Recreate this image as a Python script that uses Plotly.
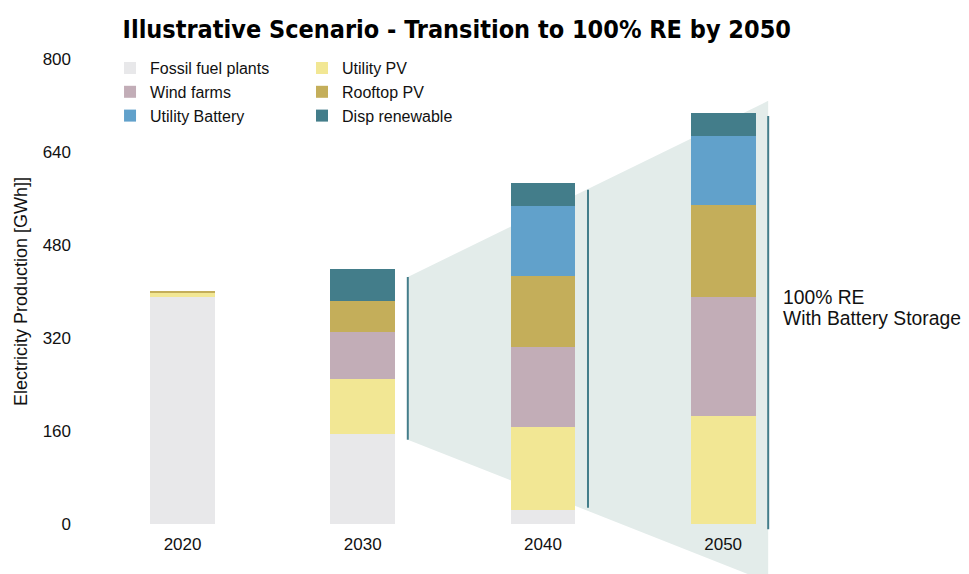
import plotly.graph_objects as go

# ---------------- data ----------------
years = [2020, 2030, 2040, 2050]
series_names = ["Fossil fuel plants", "Utility PV", "Wind farms", "Rooftop PV",
                "Utility Battery", "Disp renewable"]
fossil = [390, 154, 24, 0]
utility_pv = [8, 95, 143, 185]
wind = [0, 82, 137, 205]
rooftop = [2, 53, 123, 158]
battery = [0, 0, 120, 119]
disp = [0, 54, 40, 40]
series_values = [fossil, utility_pv, wind, rooftop, battery, disp]
colors = ["#e8e8ea", "#f2e794", "#c2adb7", "#c4ae5a", "#61a1cb", "#437d8a"]
legend_groups = ["legend", "legend2", "legend", "legend2", "legend", "legend2"]

# vertical "100% RE" bracket lines (2030, 2040, 2050)
bracket_years = [2030, 2040, 2050]
bracket_low = [145, 28, -9]
bracket_high = [425, 575, 702]
fan_top = 728
fan_bottom = -100

y_ticks = [0, 160, 320, 480, 640, 800]

# ---------------- layout helpers ----------------
# page has an 8px body margin, figure is sized to fit the window
W, H = 961, 566
ml, mr, mt, mb = 72, 179, 51, 50
x_range = [2014.31, 2053.71]
y_range = [0, 800]
line_offset = 2.5


def xd(v):
    return (v - x_range[0]) / (x_range[1] - x_range[0])


def yd(v):
    return (v - y_range[0]) / (y_range[1] - y_range[0])


fig = go.Figure()
for name, vals, col, lg in zip(series_names, series_values, colors, legend_groups):
    fig.add_trace(go.Bar(
        x=years, y=vals, name=name, width=3.6, legend=lg,
        marker=dict(color=col, line=dict(width=0)),
    ))

shapes = []
x_left = xd(bracket_years[0] + line_offset)
x_right = xd(bracket_years[-1] + line_offset)
path = (f"M {x_left},{yd(bracket_high[0])} L {x_right},{yd(fan_top)} "
        f"L {x_right},{yd(fan_bottom)} L {x_left},{yd(bracket_low[0])} Z")
shapes.append(dict(type="path", path=path, xref="x domain", yref="y domain",
                   fillcolor="#e3ecea", line=dict(width=0), layer="below"))
for yr, lo, hi in zip(bracket_years, bracket_low, bracket_high):
    xx = xd(yr + line_offset)
    shapes.append(dict(type="line", xref="x domain", yref="y domain",
                       x0=xx, x1=xx, y0=yd(lo), y1=yd(hi),
                       line=dict(color="#437d8a", width=2), layer="above"))

ann_x = xd(2050 + line_offset) + 0.018
legend_common = dict(orientation="v", xanchor="left", y=1.017, yanchor="top",
                     traceorder="normal", font=dict(size=16, color="#111"),
                     bgcolor="rgba(0,0,0,0)", itemclick=False)

fig.update_layout(
    width=W, height=H,
    margin=dict(l=ml, r=mr, t=mt, b=mb, autoexpand=False),
    paper_bgcolor="white", plot_bgcolor="white",
    barmode="stack",
    font=dict(family="Liberation Sans, Arial, sans-serif", size=17, color="#111"),
    title=dict(text="<b>Illustrative Scenario - Transition to 100% RE by 2050</b>",
               x=0.467, xanchor="center", y=0.962, yanchor="middle",
               font=dict(family="Liberation Sans Narrow, DejaVu Sans Condensed, Liberation Sans, sans-serif",
                         size=25, color="#000")),
    xaxis=dict(range=x_range, tickvals=years, ticktext=[str(y) for y in years],
               showgrid=False, zeroline=False, showline=False, ticks="",
               tickfont=dict(size=17), ticklabelstandoff=8),
    yaxis=dict(range=y_range, tickvals=y_ticks, showgrid=False, zeroline=False,
               showline=False, ticks="", tickfont=dict(size=17), ticklabelstandoff=8,
               title=dict(text="Electricity Production [GWh]]", font=dict(size=18),
                          standoff=10)),
    legend=dict(x=0.0423, **legend_common),
    legend2=dict(x=0.3127, **legend_common),
    shapes=shapes,
    annotations=[
        dict(text="100% RE", xref="x domain", yref="y", x=ann_x, y=390,
             xanchor="left", yanchor="middle", showarrow=False,
             font=dict(size=19.3, color="#111")),
        dict(text="With Battery Storage", xref="x domain", yref="y", x=ann_x, y=354,
             xanchor="left", yanchor="middle", showarrow=False,
             font=dict(size=19.3, color="#111")),
    ],
    showlegend=True,
)

fig.write_html("out.html")
